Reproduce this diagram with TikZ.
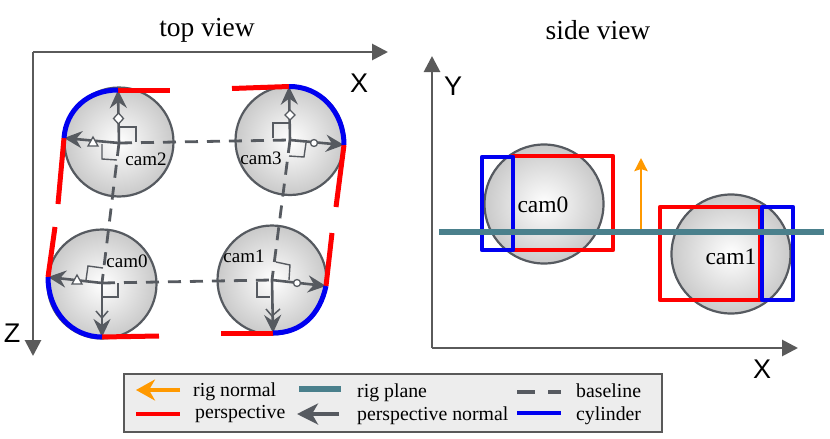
\documentclass[tikz,border=0pt]{standalone}
\usepackage{fontspec}
\setmainfont{Liberation Serif}
\setsansfont{Liberation Sans}
\usetikzlibrary{arrows.meta}
\definecolor{gr}{HTML}{565A60}
\definecolor{axisg}{HTML}{5A5A5A}
\definecolor{teal2}{HTML}{4A808C}
\definecolor{org}{HTML}{FF9900}
\definecolor{myblue}{HTML}{0000F0}
\tikzset{
 sphere/.style={circle,draw=gr,line width=2.2pt,minimum size=109pt,inner sep=0pt,inner color=white,outer color=black!21},
 axisline/.style={draw=axisg,line width=2.8pt,-{Stealth[length=16pt,width=16pt,inset=0pt]}},
 persp/.style={draw=red,line width=5pt,line cap=butt},
 cyl/.style={draw=myblue,line width=5pt,line cap=butt},
 base/.style={draw=gr,line width=2.8pt,dash pattern=on 13pt off 9pt},
 normal/.style={draw=gr,line width=2.6pt,-{Stealth[length=18pt,width=17pt,inset=6pt]}},
 mark90/.style={draw=gr,line width=1.4pt},
 markfill/.style={draw=gr,fill=white,line width=1.3pt},
 cam/.style={font=\fontsize{19}{22}\selectfont,inner sep=0pt},
 title/.style={font=\fontsize{27.5}{30}\selectfont,inner sep=0pt},
 axlab/.style={font=\sffamily\fontsize{27}{30}\selectfont,inner sep=0pt},
 leg/.style={font=\fontsize{19.8}{22}\selectfont,inner sep=0pt,anchor=west},
 rect/.style={draw=red,line width=4.2pt,line join=round},
 bluerect/.style={draw=myblue,line width=4.2pt,line join=round},
}
\begin{document}
\begin{tikzpicture}[x=1pt,y=-1pt]
\useasboundingbox (0,0) rectangle (830,439);
% titles
\node[title] (t1) at (207,30) {top view};
\node[title] (t2) at (598,30) {side view};
% axes
\coordinate (o1) at (33,52); \coordinate (xe1) at (388,52); \coordinate (ze1) at (33,356);
\draw[axisline] (o1) -- (xe1);
\draw[axisline] (o1) -- (ze1);
\coordinate (o2) at (432,348); \coordinate (ye2) at (432,56); \coordinate (xe2) at (798,348);
\draw[axisline] (o2) -- (ye2);
\draw[axisline] (o2) -- (xe2);
\node[axlab] (lx1) at (359,83) {X};
\node[axlab] (lz1) at (12,333) {Z};
\node[axlab] (ly2) at (453,86) {Y};
\node[axlab] (lx2) at (762,369) {X};
% spheres, top view
\node[sphere] (s2) at (119,142) {};
\node[sphere] (s3) at (290,140.5) {};
\node[sphere] (s0) at (102,284) {};
\node[sphere] (s1) at (272,280) {};
\coordinate (c2) at (119,143); \coordinate (c3) at (290,140);
\coordinate (c0) at (102,283); \coordinate (c1) at (272,280);
% baselines
\draw[base] (c2) -- (c3);
\draw[base] (c0) -- (c1);
\draw[base] (c2) -- (c0);
\draw[base] (c3) -- (c1);
% right-angle marks
\draw[mark90] (120,127) -- (136,127) -- (136,142);
\draw[mark90] (102,144) -- (102,159) -- (117,160);
\draw[mark90] (273,138) -- (273,123) -- (289,123);
\draw[mark90] (306,143) -- (304,157) -- (289,156);
\draw[mark90] (86,280) -- (88,266) -- (103,268);
\draw[mark90] (118,283) -- (118,297) -- (103,297);
\draw[mark90] (276,262) -- (290,265) -- (289,280);
\draw[mark90] (257,282) -- (257,297) -- (270,297);
% frame ends
\coordinate (a2t) at (118,90); \coordinate (a2l) at (64,138);
\coordinate (a3t) at (289,86.5); \coordinate (a3r) at (344,145);
\coordinate (a0l) at (48,277); \coordinate (a0b) at (102,337);
\coordinate (a1r) at (326,286); \coordinate (a1b) at (273,333);
% normals
\draw[normal] (c2) -- (a2t);
\draw[normal] (c2) -- (a2l);
\draw[normal] (c3) -- (a3t);
\draw[normal] (c3) -- (a3r);
\draw[normal] (c0) -- (a0l);
\draw[normal] (c0) -- (a0b);
\draw[normal] (c1) -- (a1r);
\draw[normal] (c1) -- (a1b);
% markers on normals
\draw[markfill] (118.5,113) -- (123.5,118.5) -- (118.5,124) -- (113.5,118.5) -- cycle;
\draw[markfill] (290,110) -- (295,115) -- (290,120) -- (285,115) -- cycle;
\draw[markfill] (93,137) -- (98,146) -- (88,146) -- cycle;
\draw[markfill] (77,275) -- (82,284) -- (72,284) -- cycle;
\draw[markfill] (314,143) circle (3.5pt);
\draw[markfill] (297,283) circle (3.5pt);
\draw[draw=gr,line width=1.5pt] (96,311) -- (102,318) -- (108,311);
\draw[draw=gr,line width=1.5pt] (266,309) -- (272,316) -- (280,309);
% perspective and cylinder outlines
\coordinate (r2a) at (170,90); \coordinate (r2b) at (58,204);
\draw[persp] (a2t) -- (r2a);
\draw[persp] (a2l) -- (r2b);
\draw[cyl] (a2l) .. controls (66,110) and (88,90) .. (a2t);
\coordinate (r3a) at (232,88.5); \coordinate (r3b) at (336,207);
\draw[persp] (a3t) -- (r3a);
\draw[persp] (a3r) -- (r3b);
\draw[cyl] (a3t) .. controls (320,86) and (344,112) .. (a3r);
\coordinate (r0a) at (55,227); \coordinate (r0b) at (159,336);
\draw[persp] (a0l) -- (r0a);
\draw[persp] (a0b) -- (r0b);
\draw[cyl] (a0l) .. controls (48,312) and (72,337) .. (a0b);
\coordinate (r1a) at (332,233); \coordinate (r1b) at (221,333);
\draw[persp] (a1r) -- (r1a);
\draw[persp] (a1b) -- (r1b);
\draw[cyl] (a1r) .. controls (320,314) and (302,333) .. (a1b);
% top-view labels
\node[cam] (l2) at (146,159) {cam2};
\node[cam] (l3) at (261,158) {cam3};
\node[cam] (l0) at (127,261) {cam0};
\node[cam] (l1) at (244,256) {cam1};
% side view
\node[sphere,minimum size=119pt] (v0) at (544,204) {};
\node[sphere,minimum size=119pt] (v1) at (731,254) {};
\node[cam,font=\fontsize{23.5}{26}\selectfont] (vl0) at (543,205) {cam0};
\node[cam,font=\fontsize{23.5}{26}\selectfont] (vl1) at (731,257) {cam1};
\draw[rect] (513,156) rectangle (613,250);
\draw[bluerect] (482,157) rectangle (513,250);
\draw[rect] (660,207) rectangle (760,300);
\draw[bluerect] (762,207) rectangle (793,300);
\coordinate (pl) at (439,232); \coordinate (pr) at (824,232);
\coordinate (nb) at (641,232); \coordinate (nt) at (641,158);
\draw[draw=org,line width=2.8pt,-{Stealth[length=13pt,width=13pt,inset=2pt]}] (nb) -- (nt);
\draw[draw=teal2,line width=5.5pt] (pl) -- (pr);
% legend
\node[draw=black!65,fill=black!7,line width=1.3pt,minimum width=538pt,minimum height=58pt,inner sep=0pt] (lg) at (393,403) {};
\coordinate (g1a) at (180,390); \coordinate (g1b) at (136,390);
\draw[draw=org,line width=4pt,-{Stealth[length=19pt,width=21pt,inset=6pt]}] (g1a) -- (g1b);
\coordinate (g2a) at (136,414); \coordinate (g2b) at (180,414);
\draw[draw=red,line width=4.5pt] (g2a) -- (g2b);
\coordinate (g3a) at (299,389); \coordinate (g3b) at (341,389);
\draw[draw=teal2,line width=5.5pt] (g3a) -- (g3b);
\coordinate (g4a) at (339,414); \coordinate (g4b) at (297,414);
\draw[draw=gr,line width=4pt,-{Stealth[length=21pt,width=21pt,inset=6pt]}] (g4a) -- (g4b);
\coordinate (g5a) at (517,392); \coordinate (g5b) at (561,392);
\draw[draw=gr,line width=4.5pt,dash pattern=on 18pt off 13pt] (g5a) -- (g5b);
\coordinate (g6a) at (517,412.5); \coordinate (g6b) at (561,412.5);
\draw[draw=myblue,line width=4pt] (g6a) -- (g6b);
\node[leg] (n1) at (193,391.5) {rig normal};
\node[leg] (n2) at (195,414) {perspective};
\node[leg] (n3) at (357,392.5) {rig plane};
\node[leg] (n4) at (357,416) {perspective normal};
\node[leg] (n5) at (576,391) {baseline};
\node[leg] (n6) at (576,415.5) {cylinder};
\end{tikzpicture}
\end{document}
